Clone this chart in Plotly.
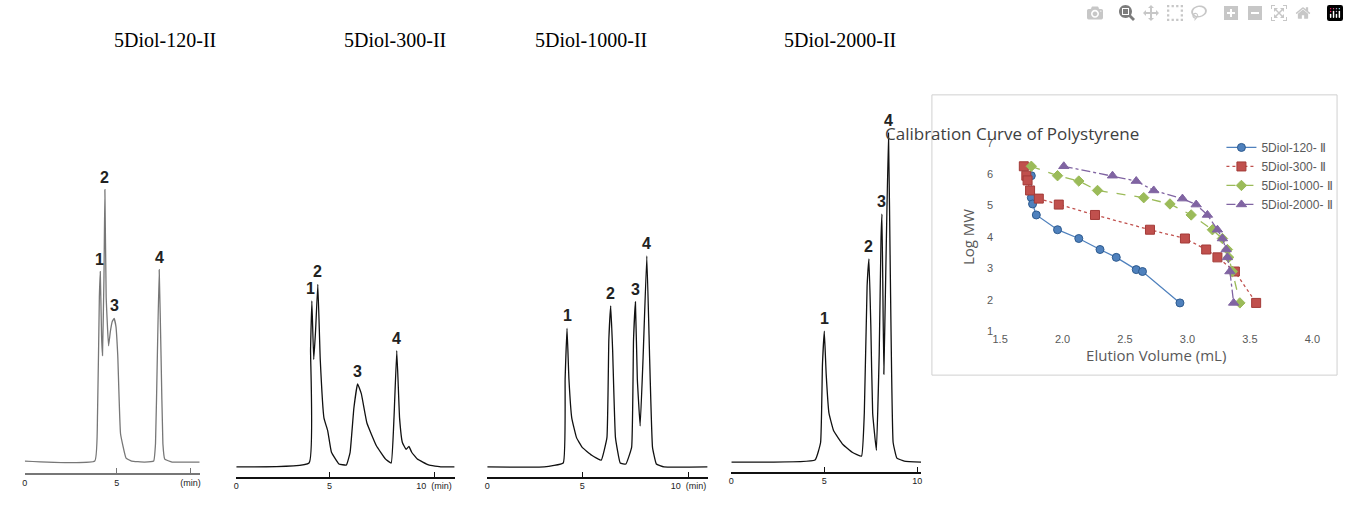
import plotly.graph_objects as go

W, H = 1349, 511
titles = ["5Diol-120-II", "5Diol-300-II", "5Diol-1000-II", "5Diol-2000-II"]
title_x = [105, 338, 590, 842]

# chromatograms: time (min), signal
t1 = [0,3.8,3.95,4.05,4.1,4.17,4.22,4.3,4.35,4.42,4.55,4.65,4.75,4.85,4.95,5.05,5.2,5.5,5.8,6.5,7.0,7.1,7.2,7.3,7.4,7.5,7.6,8.0,9.5]
s1 = [12,12,60,180,206,140,120,200,290,180,130,145,155,158,150,120,40,15,12,11,12,30,120,208,120,30,14,11,11]
t2 = [0,3.9,3.98,4.05,4.15,4.25,4.37,4.5,4.7,4.9,5.1,5.5,5.9,6.1,6.3,6.5,6.7,7.0,7.5,8.0,8.3,8.45,8.6,8.75,8.9,9.1,9.25,9.4,9.7,10.3,11.0,11.7]
s2 = [10,14,130,180,120,150,197,120,60,47,25,13,12,25,70,95,85,55,32,18,14,60,129,60,35,28,31,25,18,12,10,10]
t3 = [0,3,4.0,4.1,4.2,4.3,4.45,4.7,5.0,5.5,6.0,6.3,6.4,6.5,6.6,6.75,7.0,7.3,7.6,7.7,7.8,7.9,8.05,8.2,8.4,8.55,8.7,8.9,9.3,11.6]
s3 = [10,10,14,100,152,100,60,40,30,22,17,40,140,175,130,40,14,13,30,140,179,100,52,120,226,120,30,13,10,10]
t4 = [0,4.5,4.8,4.9,5.0,5.1,5.25,5.5,6.0,6.5,7.0,7.15,7.3,7.4,7.5,7.6,7.8,7.95,8.05,8.1,8.2,8.3,8.45,8.55,8.7,8.9,9.3,10.2]
s4 = [10,12,30,110,144,100,60,42,28,20,16,60,190,218,150,60,22,120,240,264,100,200,347,200,30,14,11,10]

peak_t1 = [4.05, 4.35, 4.85, 7.3]; peak_s1 = [206, 290, 158, 208]
peak_t2 = [4.0, 4.37, 6.5, 8.6];   peak_s2 = [180, 197, 95, 129]
peak_t3 = [4.2, 6.5, 7.8, 8.4];    peak_s3 = [152, 175, 179, 226]
peak_t4 = [5.0, 7.4, 8.1, 8.45];   peak_s4 = [144, 218, 264, 347]
peak_labels = ["1", "2", "3", "4"]

# calibration curves
cal_names = ["5Diol-120- Ⅱ", "5Diol-300- Ⅱ", "5Diol-1000- Ⅱ", "5Diol-2000- Ⅱ"]
v120 = [1.75,1.75,1.76,1.79,1.96,2.13,2.30,2.43,2.59,2.64,2.94]
m120 = [5.95,5.25,5.05,4.7,4.23,3.95,3.6,3.35,2.96,2.9,1.9]
v300 = [1.69,1.71,1.72,1.74,1.81,1.97,2.26,2.70,2.98,3.15,3.24,3.38,3.55]
m300 = [6.25,5.95,5.8,5.48,5.22,5.03,4.7,4.23,3.95,3.6,3.35,2.9,1.9]
v1000 = [1.75,1.96,2.13,2.28,2.65,2.86,3.03,3.20,3.28,3.32,3.33,3.36,3.42]
m1000 = [6.25,5.95,5.78,5.48,5.25,5.05,4.7,4.23,3.95,3.6,3.35,2.9,1.9]
v2000 = [2.01,2.40,2.59,2.73,2.96,3.07,3.16,3.24,3.28,3.31,3.32,3.34,3.37]
m2000 = [6.25,5.95,5.78,5.48,5.22,5.03,4.7,4.23,3.95,3.6,3.35,2.9,1.9]

def px(x): return x / W
def py(y): return (H - y) / H

fig = go.Figure()
panels = [
    (t1, s1, peak_t1, peak_s1, 17, 194, 9.5, 478, "#777777", ["0", "5", "(min)"], [0, 5, 9.0]),
    (t2, s2, peak_t2, peak_s2, 231, 452, 11.7, 482, "#111111", ["0", "5", "10  (min)"], [0, 5, 10.6]),
    (t3, s3, peak_t3, peak_s3, 485, 708, 11.6, 482, "#111111", ["0", "5", "10  (min)"], [0, 5, 10.6]),
    (t4, s4, peak_t4, peak_s4, 732, 924, 10.2, 477, "#111111", ["0", "5", "10"], [0, 5, 10]),
]
for i, (t, s, pt, ps, x0, x1, xmax, ay, col, tt, tv) in enumerate(panels):
    n = i + 1
    xa = "x" if n == 1 else f"x{n}"
    ya = "y" if n == 1 else f"y{n}"
    fig.add_trace(go.Scatter(x=t, y=s, mode="lines", line=dict(color=col, width=1.3, shape="spline", smoothing=0.3),
                             xaxis=xa, yaxis=ya, showlegend=False, hoverinfo="skip"))
    b = py(ay)
    fig.layout[f"xaxis{'' if n==1 else n}"] = dict(
        domain=[px(x0), px(x1)], range=[0, xmax], anchor=ya, showgrid=False, zeroline=False,
        showline=True, linecolor=col, linewidth=2 if n == 1 else 1.5, ticks="inside", ticklen=5,
        tickcolor=col, tickvals=tv, ticktext=tt,
        tickfont=dict(family="Liberation Sans", size=9, color="#222"))
    fig.layout[f"yaxis{'' if n==1 else n}"] = dict(
        domain=[b, min(b + 380 / H, 1)], range=[0, 380], anchor=xa, visible=False)
    for lab, a, v in zip(peak_labels, pt, ps):
        fig.add_annotation(x=a, y=v, xref=xa, yref=ya, text=f"<b>{lab}</b>", showarrow=False,
                           yanchor="bottom", yshift=2, font=dict(family="Liberation Sans", size=16, color="#222"))
    fig.add_annotation(x=px(title_x[i]), y=py(22), xref="paper", yref="paper", text=titles[i],
                       showarrow=False, font=dict(family="Liberation Serif", size=20, color="#000"))

styles = [
    ("#4F81BD", "#2E5B8F", "circle", "solid", 8),
    ("#C0504D", "#A33B38", "square", "dot", 9),
    ("#9BBB59", "#9BBB59", "diamond", "dash", 8),
    ("#8064A2", "#8064A2", "triangle-up", "dashdot", 9),
]
for name, vx, my, (c, ec, sym, dash, sz) in zip(cal_names, [v120, v300, v1000, v2000],
                                                  [m120, m300, m1000, m2000], styles):
    fig.add_trace(go.Scatter(x=vx, y=my, mode="lines+markers", name=name, xaxis="x5", yaxis="y5",
                             line=dict(color=c, width=1.3, dash=dash),
                             marker=dict(symbol=sym, size=sz, color=c, line=dict(color=ec, width=1))))

fig.layout.xaxis5 = dict(domain=[px(1004), px(1320)], range=[1.5, 4.0], anchor="y5", dtick=0.5,
                         tickformat=".1f", showgrid=False, zeroline=False, showline=False,
                         tickfont=dict(family="Liberation Sans", size=11, color="#595959"),
                         title=dict(text="Elution Volume (mL)", standoff=0,
                                    font=dict(family="Open Sans", size=15, color="#595959")))
fig.layout.yaxis5 = dict(domain=[py(333), py(140)], range=[1, 7], anchor="x5", dtick=1,
                         showgrid=False, zeroline=False, showline=False, ticklabelstandoff=6,
                         tickfont=dict(family="Liberation Sans", size=11, color="#595959"),
                         title=dict(text="Log MW", standoff=8,
                                    font=dict(family="Open Sans", size=15, color="#595959")))
fig.add_shape(type="rect", xref="paper", yref="paper", x0=px(935), x1=px(1345), y0=py(378), y1=py(91),
              line=dict(color="#D0D0D0", width=1))
fig.add_annotation(x=px(1147), y=py(117), xref="paper", yref="paper", text="Calibration Curve of Polystyrene",
                   showarrow=False, font=dict(family="Open Sans", size=17, color="#404040"))

fig.update_layout(autosize=True, margin=dict(l=0, r=0, t=0, b=0),
                  paper_bgcolor="white", plot_bgcolor="white",
                  legend=dict(x=px(1228), y=py(130), xanchor="left", yanchor="top",
                              font=dict(family="Liberation Sans", size=12, color="#595959"),
                              bgcolor="rgba(0,0,0,0)", tracegroupgap=6, itemwidth=30))
post = ("document.documentElement.style.margin='0';document.body.style.margin='0';"
        "document.body.style.overflow='hidden';document.documentElement.style.overflow='hidden';"
        "var d=document.getElementById('{plot_id}');d.style.width='100vw';d.style.height='100vh';"
        "Plotly.Plots.resize(d);")
fig.write_html("out.html", default_width="100vw", default_height="100vh", post_script=post)
